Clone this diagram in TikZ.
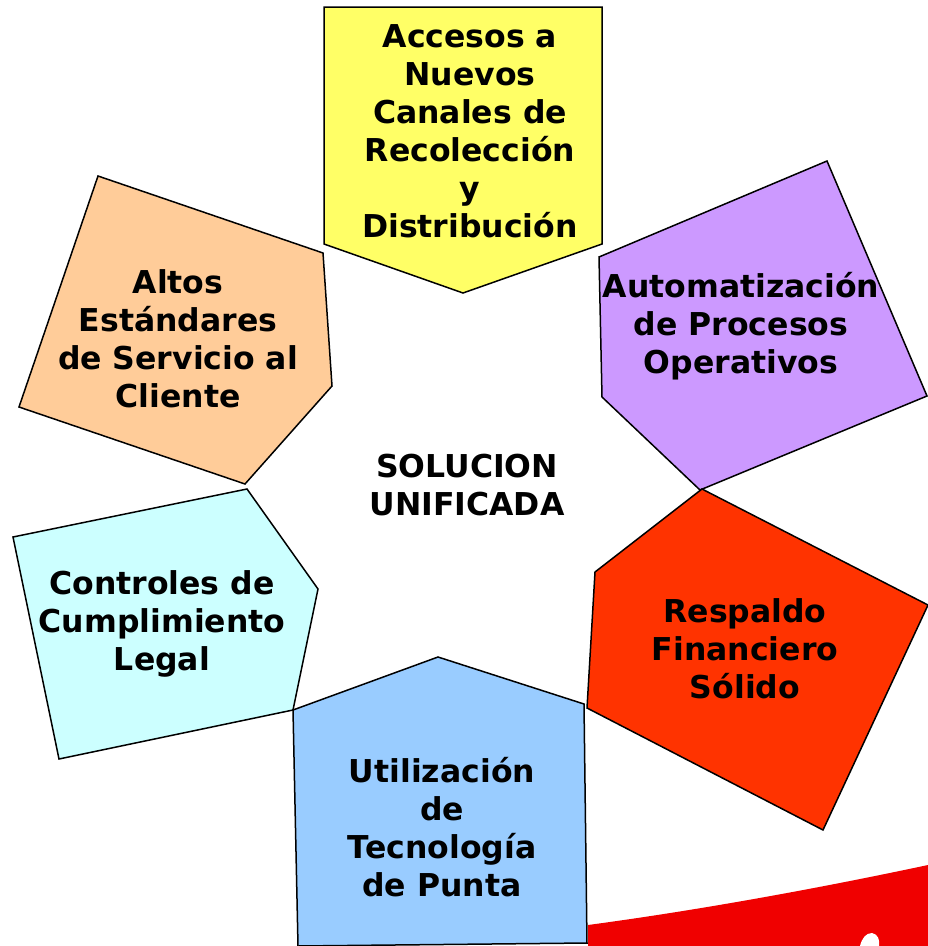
\documentclass[tikz,border=0pt]{standalone}
\usepackage{fontspec}
\setmainfont{DejaVu Sans}
\begin{document}
\begin{tikzpicture}[x=1pt,y=-1pt,
  poly/.style={draw=black,line width=1.5pt,line join=miter},
  lbl/.style={align=center,font=\fontsize{31.5}{38}\selectfont\bfseries,text=black,inner sep=0pt}]
\definecolor{cyel}{HTML}{FFFF66}
\definecolor{corg}{HTML}{FFCC99}
\definecolor{cpur}{HTML}{CC99FF}
\definecolor{cred}{HTML}{FF3300}
\definecolor{ccya}{HTML}{CCFFFF}
\definecolor{cblu}{HTML}{99CCFF}
\definecolor{cswo}{HTML}{F00000}
\useasboundingbox[fill=white] (0,0) rectangle (928,946);
% swoosh
\fill[cswo] (588,925) .. controls (700,910) and (820,888) .. (928,865) -- (928,946) -- (588,946) -- cycle;
\fill[white] (860,946) .. controls (862,938) and (866,933) .. (872,933) .. controls (878,934) and (880,940) .. (879,946) -- cycle;
% pentagons
\draw[poly,fill=cyel] (324,7) -- (602,7) -- (602,244) -- (463,293) -- (324,244) -- cycle;
\draw[poly,fill=corg] (98,176) -- (323,253) -- (332,386) -- (245,484) -- (19,407) -- cycle;
\draw[poly,fill=cpur] (827,161) -- (927,396) -- (700,490) -- (602,397) -- (599,257) -- cycle;
\draw[poly,fill=cred] (702,489) -- (928,605) -- (823,830) -- (587,708) -- (595,572) -- cycle;
\draw[poly,fill=ccya] (247,489) -- (318,589) -- (293,710) -- (59,759) -- (13,537) -- cycle;
\draw[poly,fill=cblu] (438,657) -- (584,704) -- (587,943) -- (298,946) -- (293,710) -- cycle;
% labels
\node[lbl] (acc) at (470,131) {Accesos a\\Nuevos\\Canales de\\Recolección\\y\\Distribución};
\node[lbl] (alt) at (178,339) {Altos\\Estándares\\de Servicio al\\Cliente};
\node[lbl] (aut) at (741,326) {Automatización\\de Procesos\\Operativos};
\node[lbl] (res) at (745,649) {Respaldo\\Financiero\\Sólido};
\node[lbl] (con) at (162,624) {Controles de\\Cumplimiento\\Legal};
\node[lbl] (uti) at (442,827) {Utilización\\de\\Tecnología\\de Punta};
\node[lbl] (sol) at (467,485) {SOLUCION\\UNIFICADA};
\end{tikzpicture}
\end{document}
